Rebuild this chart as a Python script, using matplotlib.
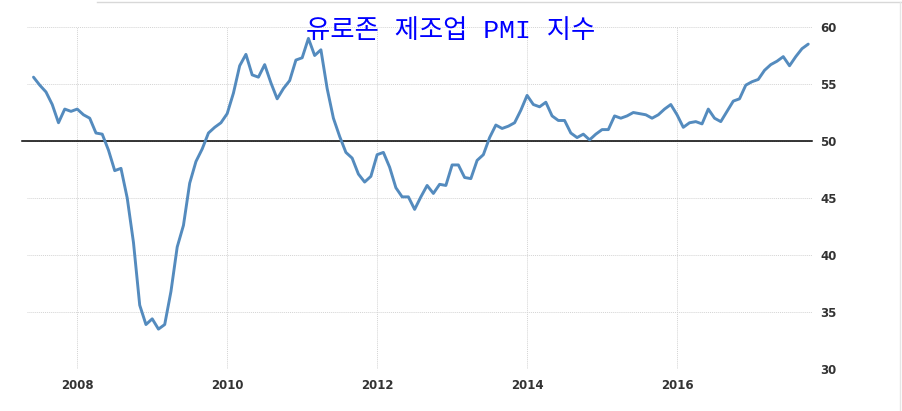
import matplotlib
matplotlib.use("Agg")
import matplotlib.pyplot as plt
import numpy as np

# Monthly Eurozone manufacturing PMI, Jun 2007 .. Oct 2017
start_year, start_month = 2007, 6
pmi = [
    55.6, 54.9, 54.3, 53.2, 51.6, 52.8, 52.6,                                # 2007 Jun-Dec
    52.8, 52.3, 52.0, 50.7, 50.6, 49.2, 47.4, 47.6, 45.0, 41.1, 35.6, 33.9,  # 2008
    34.4, 33.5, 33.9, 36.8, 40.7, 42.6, 46.3, 48.2, 49.3, 50.7, 51.2, 51.6,  # 2009
    52.4, 54.2, 56.6, 57.6, 55.8, 55.6, 56.7, 55.1, 53.7, 54.6, 55.3, 57.1,  # 2010
    57.3, 59.0, 57.5, 58.0, 54.6, 52.0, 50.4, 49.0, 48.5, 47.1, 46.4, 46.9,  # 2011
    48.8, 49.0, 47.7, 45.9, 45.1, 45.1, 44.0, 45.1, 46.1, 45.4, 46.2, 46.1,  # 2012
    47.9, 47.9, 46.8, 46.7, 48.3, 48.8, 50.3, 51.4, 51.1, 51.3, 51.6, 52.7,  # 2013
    54.0, 53.2, 53.0, 53.4, 52.2, 51.8, 51.8, 50.7, 50.3, 50.6, 50.1, 50.6,  # 2014
    51.0, 51.0, 52.2, 52.0, 52.2, 52.5, 52.4, 52.3, 52.0, 52.3, 52.8, 53.2,  # 2015
    52.3, 51.2, 51.6, 51.7, 51.5, 52.8, 52.0, 51.7, 52.6, 53.5, 53.7, 54.9,  # 2016
    55.2, 55.4, 56.2, 56.7, 57.0, 57.4, 56.6, 57.4, 58.1, 58.5,              # 2017 Jan-Oct
]
x_ticks = [2008, 2010, 2012, 2014, 2016]
y_ticks = [30, 35, 40, 45, 50, 55, 60]
title = "유로존 제조업 PMI 지수"

t = np.array([start_year + (start_month - 1 + i) / 12.0 for i in range(len(pmi))])

W, H = 903, 411
fig = plt.figure(figsize=(W / 100, H / 100), dpi=100)
fig.patch.set_facecolor("white")
ax = fig.add_axes([27 / W, (H - 369) / H, (812 - 27) / W, (369 - 27) / H])

ax.plot(t, pmi, color="#548BBE", lw=2.1, solid_joinstyle="round",
        solid_capstyle="round", zorder=3)
ax.axhline(50, xmin=-0.006, xmax=1.0, color="black", lw=1.1, zorder=2, clip_on=False)

ax.set_xlim(2007.33, 2017.8)
ax.set_ylim(30, 60)
ax.set_xticks(x_ticks)
ax.set_xticklabels([str(v) for v in x_ticks])
ax.set_yticks(y_ticks)
ax.set_yticklabels([str(v) for v in y_ticks])
ax.yaxis.tick_right()
ax.tick_params(axis="both", length=0, labelsize=8.5, labelcolor="#333333")
ax.tick_params(axis="y", pad=6)
ax.tick_params(axis="x", pad=7)
for lab in ax.get_xticklabels() + ax.get_yticklabels():
    lab.set_fontweight("bold")
    lab.set_family("DejaVu Sans")

ax.grid(True, color="#d4d4d4", linestyle=(0, (1, 1)), linewidth=0.7)
for s in ax.spines.values():
    s.set_visible(False)
ax.set_axisbelow(True)

# screenshot frame lines
fig.add_artist(plt.Line2D([97 / W, 1.0], [1 - 2 / H, 1 - 2 / H], color="#d8d8d8", lw=1.0))
fig.add_artist(plt.Line2D([900 / W, 900 / W], [0, 1 - 2 / H], color="#e6e6e6", lw=1.0))

fig.text(451 / W, 1 - 31 / H, title, color="#0000ff", fontsize=19,
         ha="center", va="center", family=["Liberation Mono", "Noto Sans CJK KR"])

fig.savefig("out.png", dpi=100)
